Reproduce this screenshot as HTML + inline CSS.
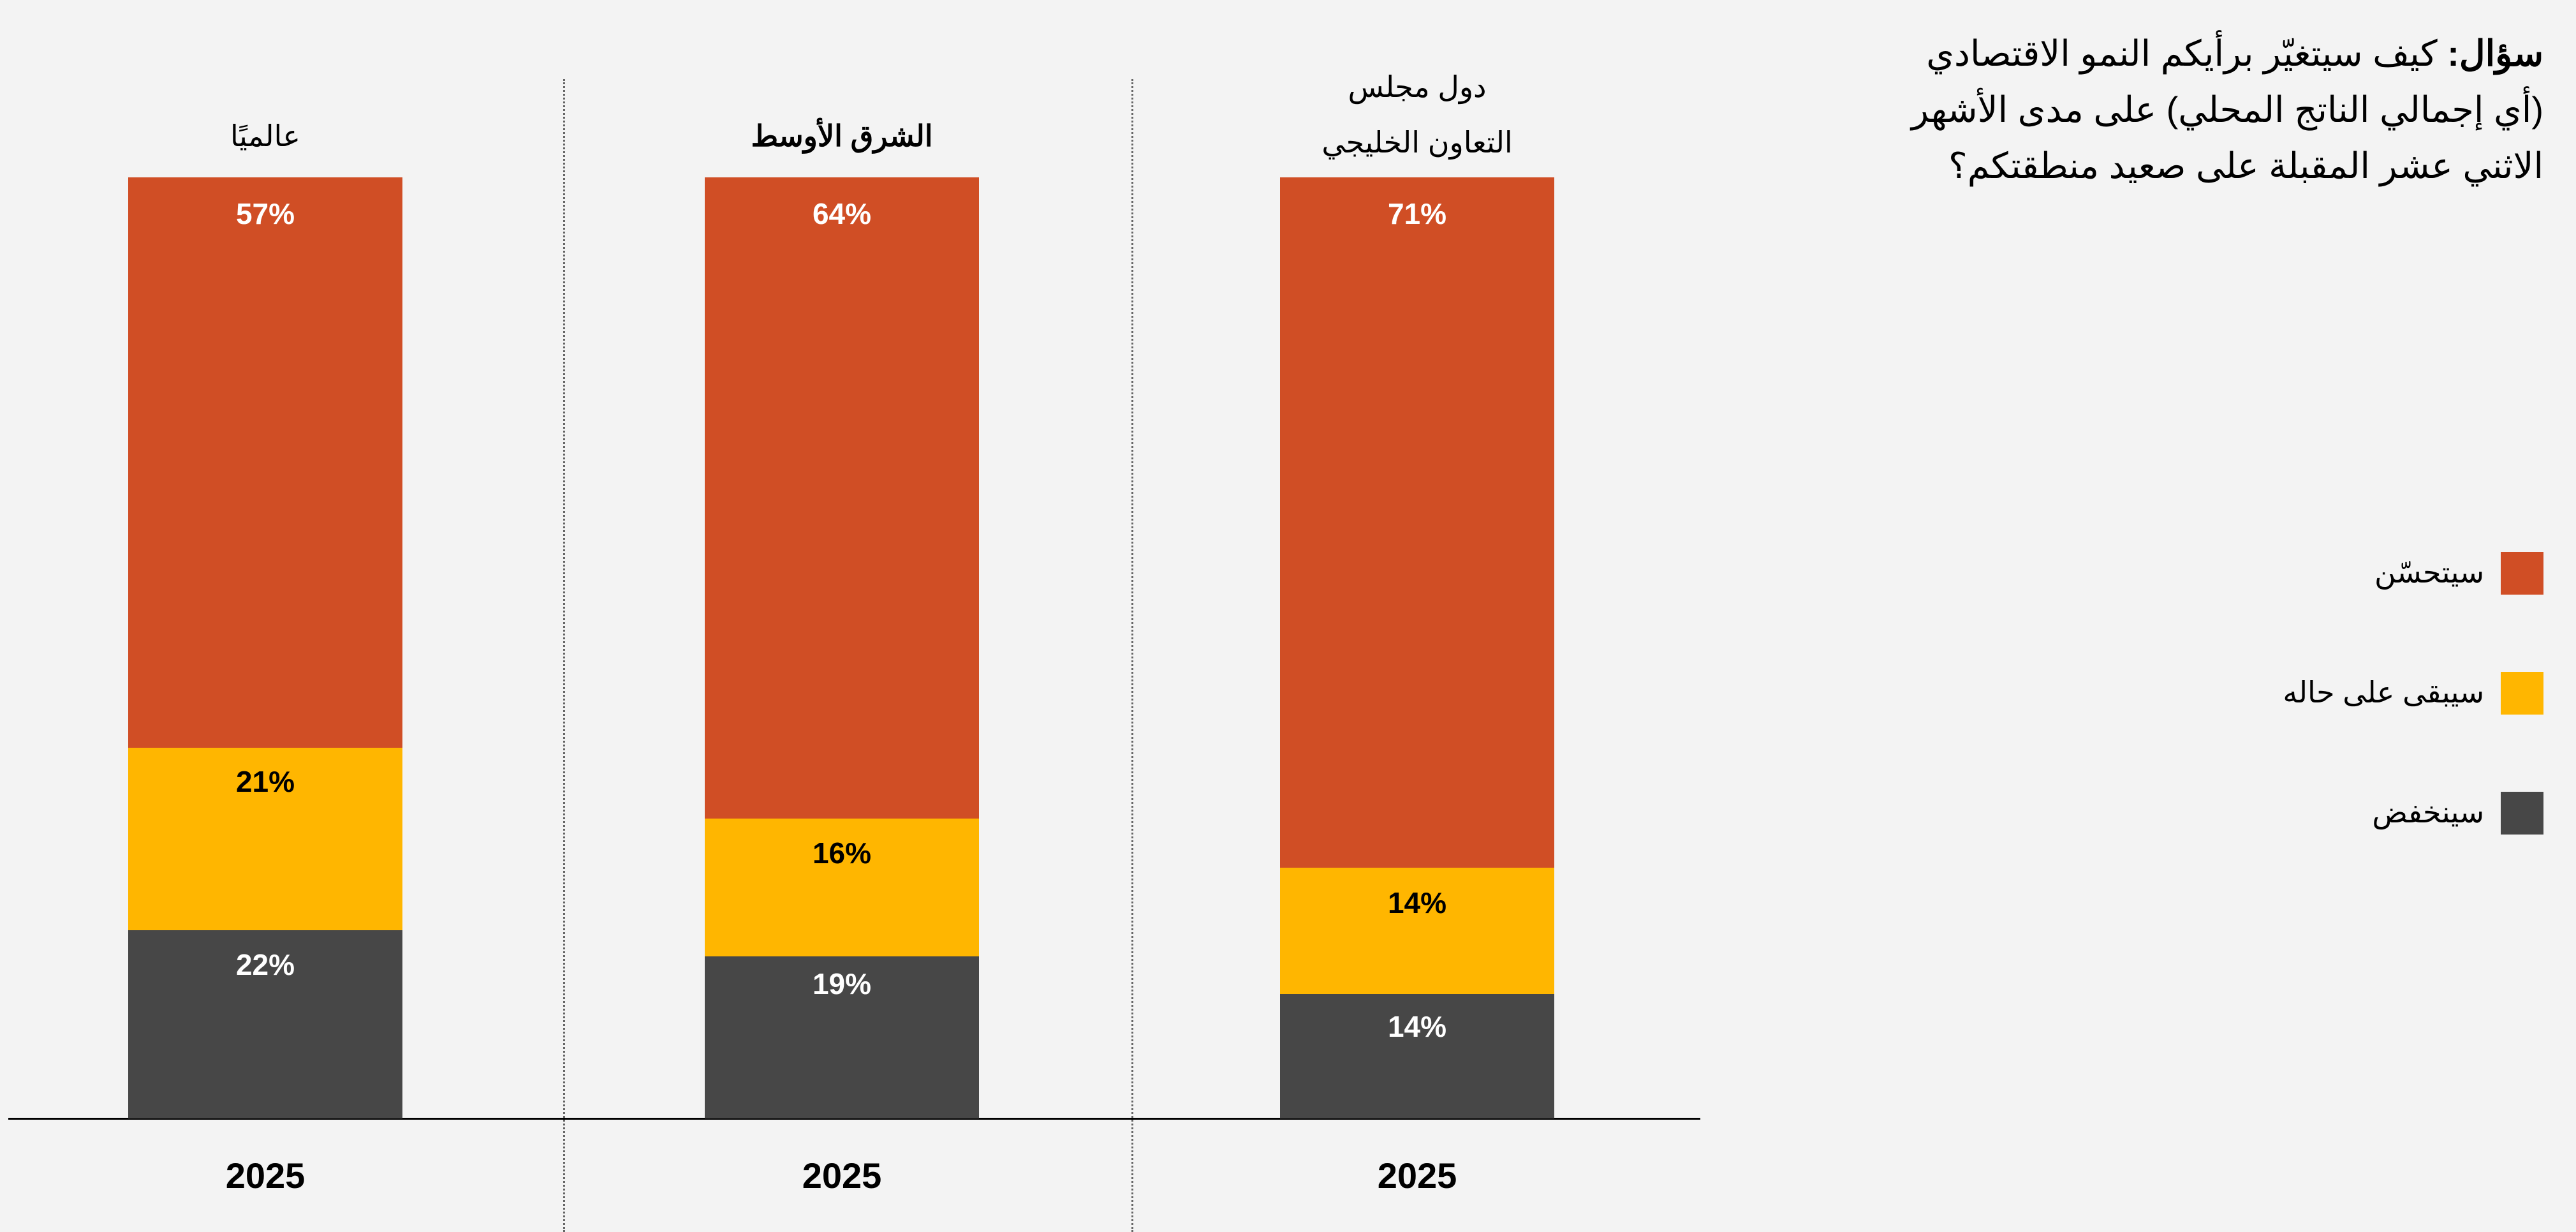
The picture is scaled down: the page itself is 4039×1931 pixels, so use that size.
<!DOCTYPE html>
<html><head><meta charset="utf-8"><style>
html,body{margin:0;padding:0;background:#f3f3f3;}
body{width:4039px;height:1931px;position:relative;overflow:hidden;font-family:"Liberation Sans","Noto Sans CJK SC",sans-serif;}
.a{position:absolute;}
.bar{position:absolute;}
.o{background:#d04e25;}.y{background:#ffb600;}.d{background:#474747;}
.pl{position:absolute;width:430px;text-align:center;font-weight:bold;font-size:46px;}
.w{color:#fff;}.k{color:#000;}
.yr{position:absolute;width:430px;text-align:center;font-weight:bold;font-size:56px;top:1810px;}
.hd{position:absolute;width:600px;text-align:center;font-size:46px;line-height:87px;direction:rtl;}
.sep{position:absolute;top:124px;height:1807px;border-left:3px dotted #666;}
.lg{position:absolute;left:3921px;width:67px;height:67px;}
.lt{position:absolute;right:144px;font-size:46px;direction:rtl;}
</style></head><body>
<div class="sep" style="left:883px"></div>
<div class="sep" style="left:1774px"></div>
<div class="a" style="left:13px;top:1752px;width:2653px;height:3px;background:#000"></div>

<div class="bar o" style="left:201px;top:278px;width:430px;height:894px"></div>
<div class="bar y" style="left:201px;top:1172px;width:430px;height:286px"></div>
<div class="bar d" style="left:201px;top:1458px;width:430px;height:295px"></div>
<div class="pl w" style="left:201px;top:308px">57%</div>
<div class="pl k" style="left:201px;top:1198px">21%</div>
<div class="pl w" style="left:201px;top:1485px">22%</div>

<div class="bar o" style="left:1105px;top:278px;width:430px;height:1005px"></div>
<div class="bar y" style="left:1105px;top:1283px;width:430px;height:216px"></div>
<div class="bar d" style="left:1105px;top:1499px;width:430px;height:254px"></div>
<div class="pl w" style="left:1105px;top:308px">64%</div>
<div class="pl k" style="left:1105px;top:1310px">16%</div>
<div class="pl w" style="left:1105px;top:1515px">19%</div>

<div class="bar o" style="left:2007px;top:278px;width:430px;height:1082px"></div>
<div class="bar y" style="left:2007px;top:1360px;width:430px;height:198px"></div>
<div class="bar d" style="left:2007px;top:1558px;width:430px;height:195px"></div>
<div class="pl w" style="left:2007px;top:308px">71%</div>
<div class="pl k" style="left:2007px;top:1388px">14%</div>
<div class="pl w" style="left:2007px;top:1582px">14%</div>

<div class="yr" style="left:201px">2025</div>
<div class="yr" style="left:1105px">2025</div>
<div class="yr" style="left:2007px">2025</div>

<div class="hd" style="left:116px;top:170px">عالميًا</div>
<div class="hd" style="left:1020px;top:170px;font-weight:bold">الشرق الأوسط</div>
<div class="hd" style="left:1922px;top:93px">دول مجلس<br>التعاون الخليجي</div>

<div class="a" style="right:51px;top:40px;font-size:56px;line-height:88px;direction:rtl;text-align:right;width:1200px"><b>سؤال:</b> كيف سيتغيّر برأيكم النمو الاقتصادي<br>(أي إجمالي الناتج المحلي) على مدى الأشهر<br>الاثني عشر المقبلة على صعيد منطقتكم؟</div>

<div class="lg o" style="top:865px"></div>
<div class="lg y" style="top:1053px"></div>
<div class="lg d" style="top:1241px"></div>
<div class="lt" style="top:870px">سيتحسّن</div>
<div class="lt" style="top:1058px">سيبقى على حاله</div>
<div class="lt" style="top:1246px">سينخفض</div>
</body></html>
